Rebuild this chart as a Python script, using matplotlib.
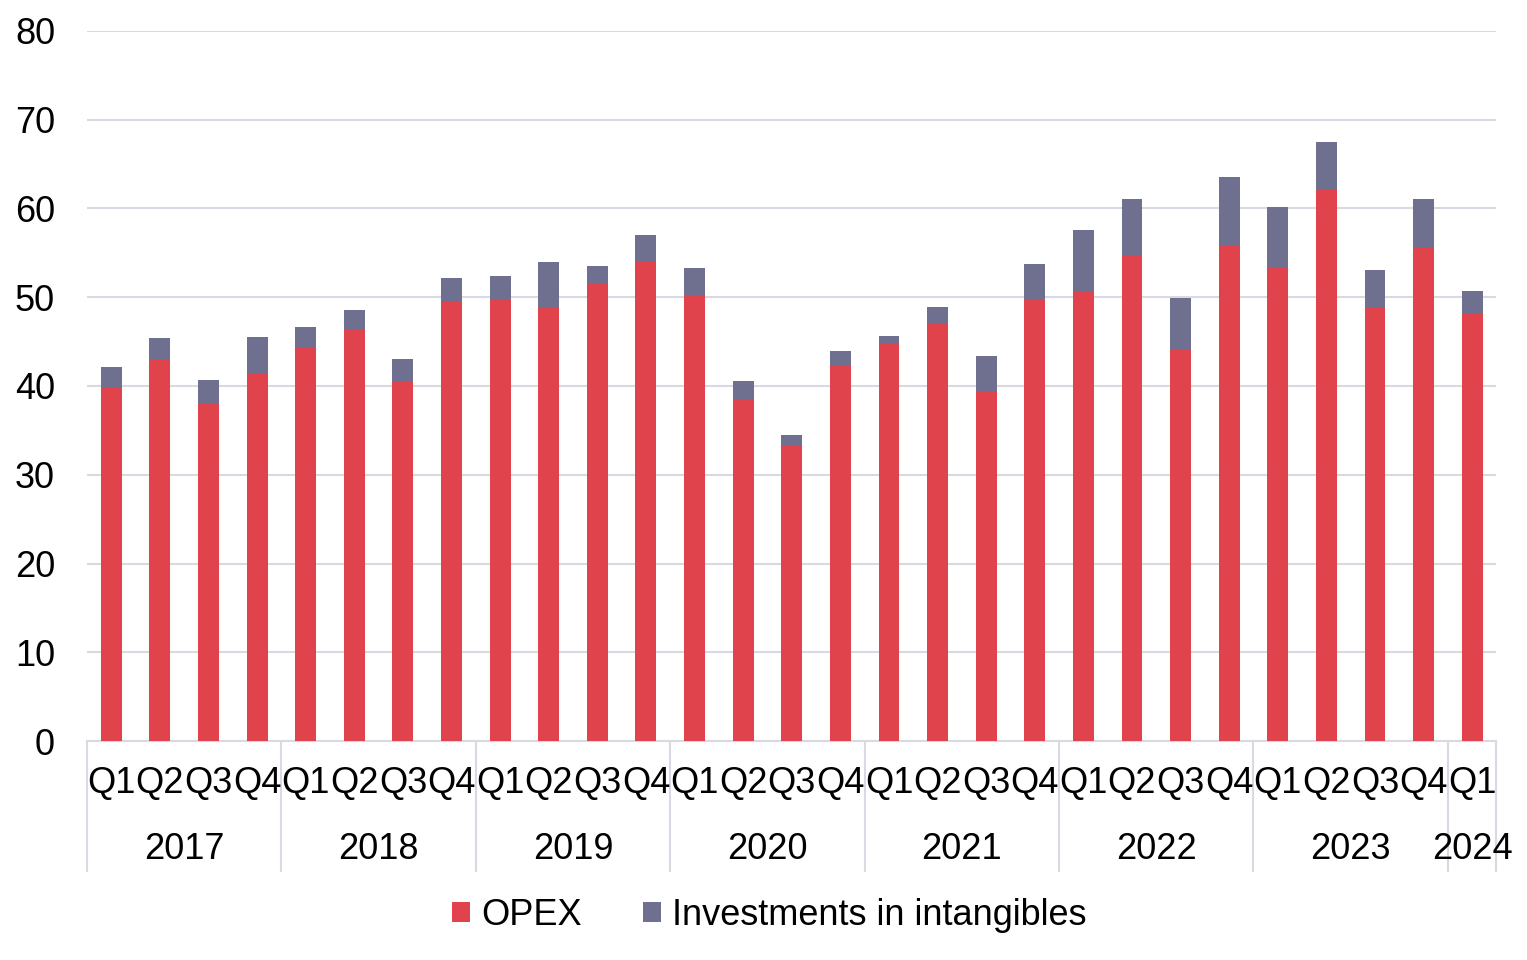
import matplotlib.pyplot as plt
import matplotlib.transforms as mtransforms
import numpy as np

plt.rcParams['font.family'] = ['Liberation Sans', 'DejaVu Sans']

years = ['2017', '2018', '2019', '2020', '2021', '2022', '2023', '2024']
quarters = ['Q1', 'Q2', 'Q3', 'Q4'] * 7 + ['Q1']
opex = [39.8, 43.0, 38.0, 41.4,
        44.4, 46.4, 40.6, 49.4,
        49.8, 48.9, 51.6, 54.0,
        50.1, 38.5, 33.4, 42.4,
        44.8, 47.0, 39.4, 49.7,
        50.6, 54.6, 44.1, 55.8,
        53.4, 62.1, 48.8, 55.7,
        48.2]
total = [42.1, 45.4, 40.7, 45.5,
         46.6, 48.6, 43.0, 52.2,
         52.4, 53.9, 53.5, 57.0,
         53.3, 40.6, 34.5, 43.9,
         45.6, 48.9, 43.4, 53.7,
         57.6, 61.0, 49.9, 63.5,
         60.2, 67.5, 53.0, 61.0,
         50.7]
intangibles = [t - o for t, o in zip(total, opex)]

red = '#e0434b'
purple = '#6f6f8f'
grid_c = '#d9d9e3'
fs = 26

fig = plt.figure(figsize=(15.27, 9.6), dpi=100)
ax = fig.add_axes([0.057, 0.228, 0.923, 0.740])

x = np.arange(len(opex))
ax.bar(x, opex, width=0.43, color=red, label='OPEX', zorder=3)
ax.bar(x, intangibles, width=0.43, bottom=opex, color=purple,
       label='Investments in intangibles', zorder=3)

ax.set_xlim(-0.5, len(opex) - 0.5)
ax.set_ylim(0, 80)
ax.set_yticks(range(0, 81, 10))
ax.tick_params(axis='y', labelsize=fs, length=0, pad=23)
ax.yaxis.grid(True, color=grid_c, linewidth=1.5, zorder=0)
for s in ['top', 'right', 'left']:
    ax.spines[s].set_visible(False)
ax.spines['bottom'].set_color(grid_c)
ax.spines['bottom'].set_linewidth(1.5)
ax.set_xticks([])

trans = mtransforms.blended_transform_factory(ax.transData, ax.transAxes)
for i, q in enumerate(quarters):
    ax.text(i, -0.06, q, transform=trans, ha='center', va='center', fontsize=fs)

# year groups
starts = list(range(0, len(opex), 4))
for k, yr in enumerate(years):
    s = starts[k]
    e = min(s + 4, len(opex))
    ax.text((s + e - 1) / 2, -0.152, yr, transform=trans, ha='center',
            va='center', fontsize=fs)
for b in starts + [len(opex)]:
    ax.plot([b - 0.5, b - 0.5], [0, -0.183], transform=trans, color=grid_c,
            linewidth=1.5, clip_on=False)

ax.legend(loc='center', bbox_to_anchor=(0.484, -0.245), ncol=2, frameon=False,
          fontsize=fs, handlelength=0.5, handleheight=0.5, handletextpad=0.3,
          columnspacing=1.7)

fig.savefig('out.png', dpi=100)
